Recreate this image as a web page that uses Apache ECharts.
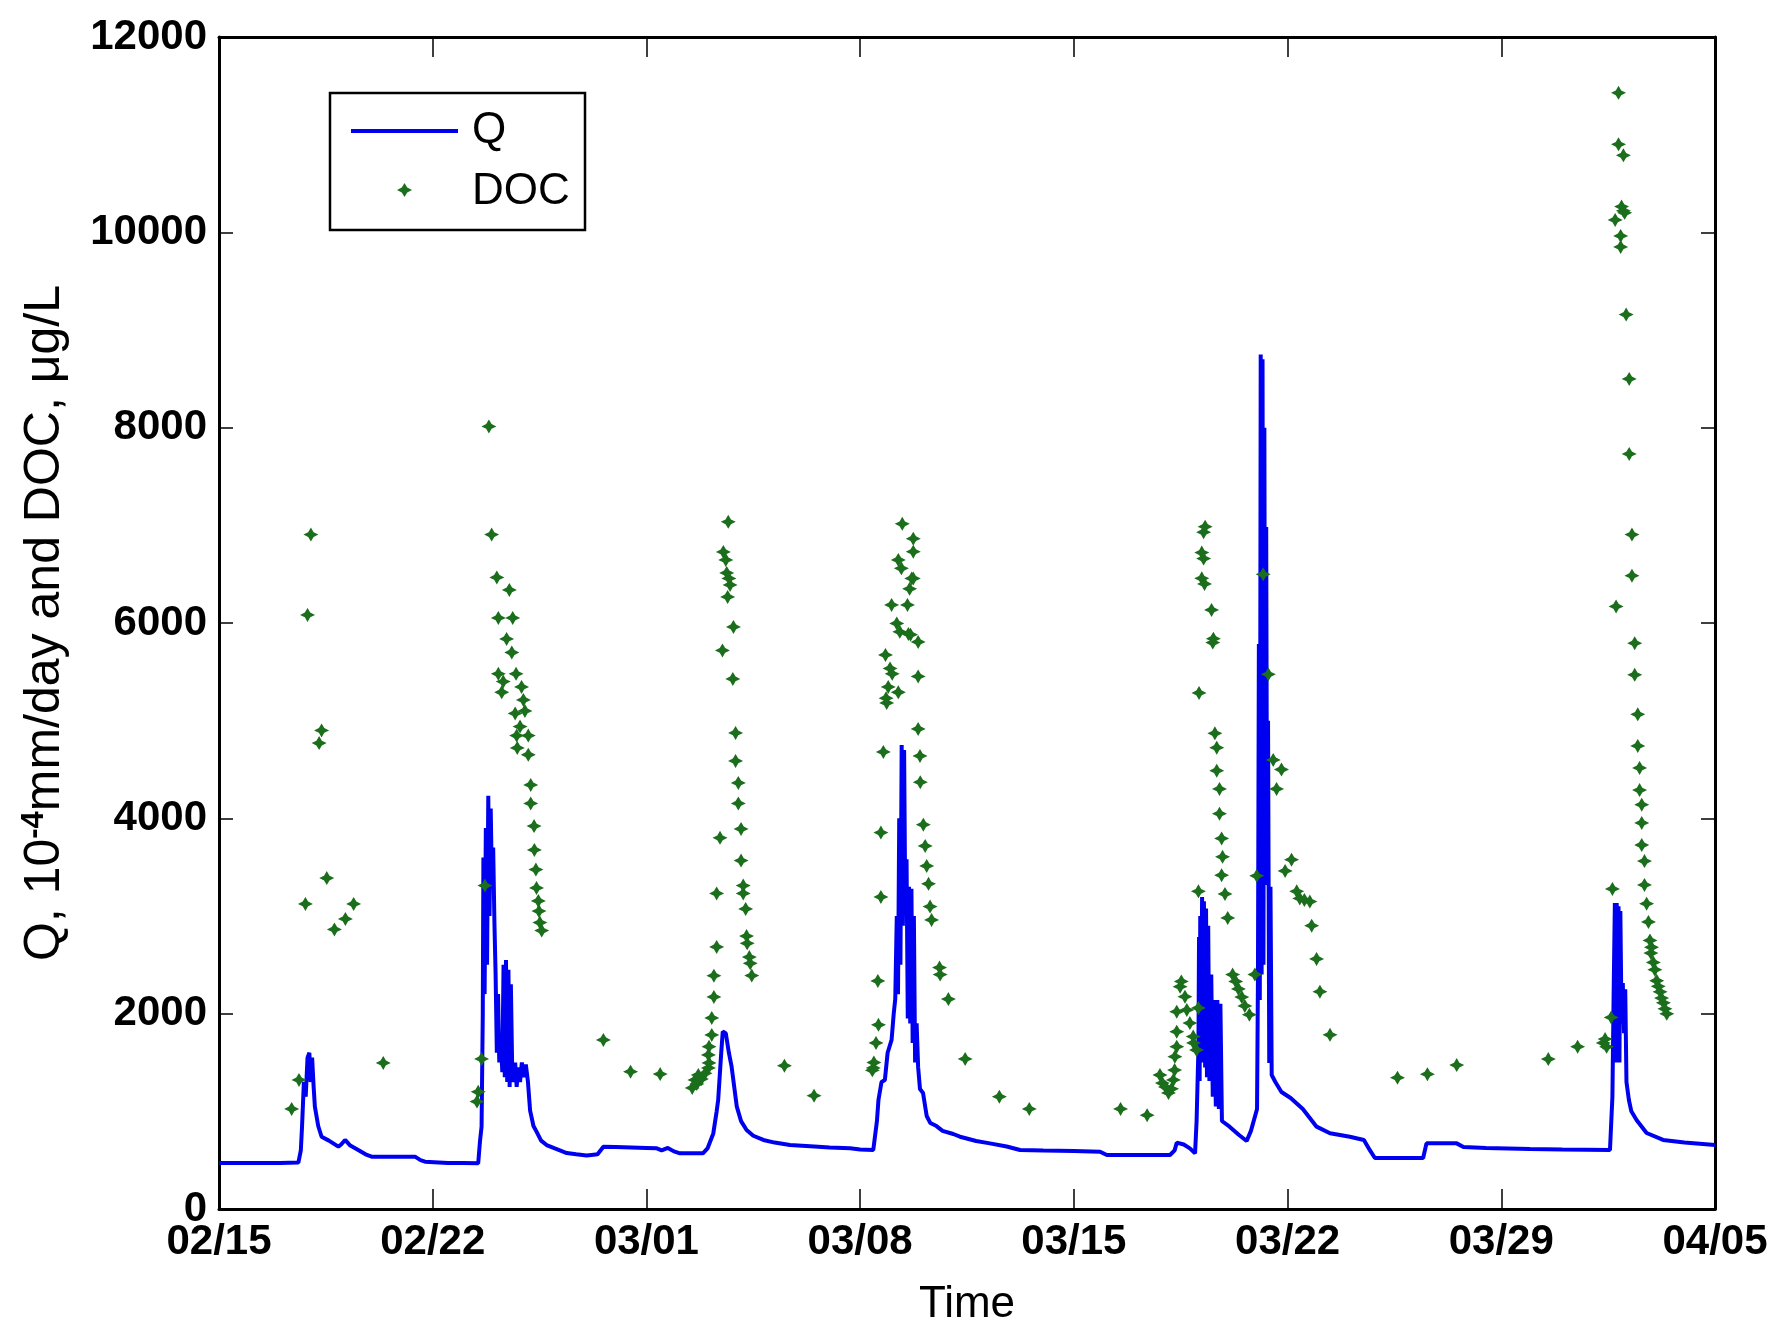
<!DOCTYPE html>
<html>
<head>
<meta charset="utf-8">
<title>Q and DOC</title>
<script src="https://cdn.jsdelivr.net/npm/echarts@6.0.0/dist/echarts.min.js"></script>
<style>
    html, body { margin: 0; padding: 0; background: #fff; }
    #chart { width: 1775px; height: 1327px; }
</style>
</head>
<body>
<div id="chart"></div>
<script>
'use strict';

// x 轴刻度 (从 02/15 起的天数, 每 7 天一个)
var xTickLabels = ['02/15', '02/22', '03/01', '03/08', '03/15', '03/22', '03/29', '04/05'];

// Q (10^-4 mm/day), 时间为 02/15 之后的天数
var qDays = [0, 1, 2, 2.6, 2.68, 2.72, 2.78, 2.84, 2.9, 2.96, 3.0, 3.05, 3.1, 3.14, 3.25, 3.36, 3.6, 3.91, 4.0, 4.13,
    4.3, 4.56, 4.8, 5.0, 5.5, 6.0, 6.42, 6.6, 6.75, 7.5, 8.0, 8.49, 8.55, 8.6, 8.64, 8.66, 8.7, 8.74, 8.78, 8.82,
    8.86, 8.9, 8.94, 8.98, 9.02, 9.06, 9.1, 9.14, 9.18, 9.22, 9.28, 9.32, 9.36, 9.4, 9.44, 9.48, 9.52, 9.56, 9.6, 9.65,
    9.7, 9.75, 9.8, 9.86, 9.92, 9.98, 10.05, 10.12, 10.19, 10.3, 10.4, 10.55, 10.73, 11.0, 11.39, 11.7, 12.04, 12.2, 12.4, 12.59,
    13.0, 13.5, 14.0, 14.34, 14.5, 14.7, 14.9, 15.1, 15.5, 15.85, 16.0, 16.19, 16.3, 16.35, 16.45, 16.5, 16.6, 16.7, 16.79, 16.96,
    17.1, 17.28, 17.5, 17.83, 18.2, 18.7, 19.5, 20.0, 20.67, 21.0, 21.43, 21.55, 21.6, 21.7, 21.81, 21.9, 22.03, 22.1, 22.15, 22.2,
    22.24, 22.28, 22.32, 22.36, 22.4, 22.44, 22.48, 22.52, 22.56, 22.6, 22.64, 22.68, 22.72, 22.76, 22.8, 22.85, 22.9, 22.96, 23.06, 23.18,
    23.3, 23.5, 23.7, 24.05, 24.27, 24.8, 25.25, 25.8, 26.24, 27.0, 28.0, 28.86, 29.08, 30.0, 31.15, 31.3, 31.37, 31.6, 31.8, 31.97,
    32.02, 32.06, 32.08, 32.1, 32.12, 32.14, 32.17, 32.2, 32.23, 32.26, 32.3, 32.33, 32.36, 32.4, 32.44, 32.5, 32.55, 32.6, 32.65, 32.7,
    32.75, 32.8, 32.85, 33.1, 33.4, 33.66, 33.8, 34.0, 34.03, 34.06, 34.09, 34.12, 34.15, 34.18, 34.21, 34.24, 34.27, 34.3, 34.33, 34.36,
    34.4, 34.44, 34.48, 34.6, 34.8, 35.1, 35.5, 35.95, 36.39, 37.04, 37.5, 37.7, 37.86, 38.5, 39.44, 39.55, 40.0, 40.54, 40.76, 41.5,
    42.94, 44.0, 45.56, 45.64, 45.68, 45.72, 45.75, 45.78, 45.81, 45.84, 45.87, 45.9, 45.94, 45.98, 46.02, 46.06, 46.1, 46.18, 46.26, 46.43,
    46.76, 47.3, 48.0, 49.0];
var qVals = [470, 470, 470, 475, 600, 843, 1300, 1150, 1550, 1600, 1300, 1550, 1250, 1048, 850, 740, 700, 638, 660, 707,
    650, 604, 560, 536, 536, 536, 536, 500, 485, 470, 470, 468, 700, 843, 2000, 3600, 2200, 3900, 2500, 4230,
    3000, 4100, 3300, 3700, 2950, 2400, 1600, 2200, 1500, 1800, 1400, 2500, 1350, 2550, 1300, 2450, 1250, 2300, 1500, 1300,
    1500, 1250, 1450, 1300, 1500, 1350, 1480, 1300, 1007, 850, 792, 700, 655, 620, 573, 560, 547, 553, 560, 638,
    635, 630, 625, 621, 600, 625, 590, 570, 570, 570, 620, 774, 1000, 1116, 1600, 1816, 1800, 1600, 1457, 1048,
    900, 809, 750, 707, 680, 655, 640, 630, 621, 610, 604, 900, 1116, 1300, 1321, 1600, 1731, 2000, 2150, 3000,
    2200, 4000, 2500, 4750, 2900, 4700, 3000, 3580, 1950, 3300, 1900, 3280, 1700, 3000, 1500, 1900, 1450, 1229, 1188, 952,
    880, 849, 800, 768, 740, 696, 672, 640, 604, 600, 595, 587, 553, 553, 553, 600, 679, 660, 621, 570,
    900, 1400, 1628, 2785, 1311, 3000, 1500, 3195, 1600, 3150, 1450, 3077, 1350, 2900, 1311, 2400, 1150, 2140, 1050, 2140,
    1024, 2100, 901, 843, 760, 696, 800, 1024, 2375, 5786, 2140, 8750, 2400, 8700, 2500, 8000, 3369, 6984, 3318, 5000,
    1495, 3300, 1372, 1300, 1198, 1137, 1024, 843, 775, 740, 707, 600, 522, 522, 522, 672, 672, 672, 635, 625,
    614, 608, 604, 1150, 2200, 3133, 1500, 3133, 1800, 3100, 1500, 3050, 1900, 2314, 1800, 2250, 1300, 1116, 1000, 911,
    778, 707, 680, 655];

// DOC (µg/L)
var docDays = [2.38, 2.62, 2.83, 2.9, 3.01, 3.28, 3.36, 3.53, 3.78, 4.14, 4.41, 5.38,
    8.45, 8.49, 8.6, 8.71, 8.84, 8.93, 9.1, 9.15, 9.15, 9.26, 9.31, 9.42, 9.51, 9.59, 9.62, 9.7, 9.73, 9.75,
    9.77, 9.86, 9.91, 9.97, 10.02, 10.13, 10.13, 10.21, 10.21, 10.32, 10.33, 10.38, 10.4, 10.46, 10.48, 10.51, 10.57,
    12.59, 13.48, 14.45,
    15.5, 15.59, 15.65, 15.7, 15.8, 15.92, 16.03, 16.05, 16.03, 16.05, 16.14, 16.14, 16.21, 16.21, 16.3, 16.3, 16.41, 16.49,
    16.52, 16.6, 16.63, 16.68, 16.7, 16.74, 16.66, 16.83, 16.85, 16.92, 16.92, 17.01, 17.01, 17.1, 17.1, 17.17, 17.17, 17.25,
    17.28, 17.3, 17.37, 17.4, 17.45,
    18.52, 19.49,
    21.4, 21.43, 21.45, 21.52, 21.6, 21.58, 21.68, 21.68, 21.76, 21.83, 21.87, 21.92, 21.85, 21.98, 22.05, 22.25, 22.03, 22.2,
    22.3, 22.58, 22.65, 22.9, 22.55, 22.25, 22.35, 22.69, 22.74, 22.62, 22.38, 22.74, 22.74, 22.9, 22.9, 22.96, 22.97, 23.07,
    23.13, 23.18, 23.24, 23.29, 23.34, 23.6, 23.62, 23.89, 24.44,
    25.56, 26.54, 29.53, 30.4,
    30.82, 30.9, 31.0, 31.1, 31.2, 31.26, 31.3, 31.31, 31.37, 31.37, 31.37, 31.48, 31.52, 31.64, 31.7, 31.8, 31.91, 32.02,
    31.92, 32.08, 32.08, 32.1, 32.19, 32.19, 32.25, 32.25, 32.3, 32.28, 32.51, 32.57, 32.55, 32.62, 32.68, 32.68, 32.77, 32.77,
    32.84, 32.87, 32.84, 32.95, 33.04, 33.2, 33.3, 33.39, 33.5, 33.6, 33.75, 33.93, 33.99, 34.2, 34.37, 34.53, 34.64, 34.8,
    34.92, 35.13, 35.3, 35.4, 35.55, 35.73, 35.79, 35.95, 36.06, 36.39,
    38.6, 39.58, 40.54, 43.54, 44.5,
    45.34, 45.4, 45.45, 45.6, 45.64, 45.76, 45.73, 45.84, 45.84, 46.0, 45.94, 46.0, 46.04, 45.91, 45.91, 46.09, 46.19, 46.19,
    46.28, 46.28, 46.37, 46.37, 46.47, 46.47, 46.53, 46.53, 46.6, 46.6, 46.6, 46.69, 46.69, 46.76, 46.82, 46.87, 46.9, 46.92,
    46.98, 47.03, 47.09, 47.14, 47.2, 47.25, 47.31, 47.36, 47.42];
var docVals = [1024, 1321, 3123, 6083, 6906, 4771, 4900, 3389, 2862, 2970, 3123, 1495,
    1100, 1200, 1536, 3312, 8012, 6906, 6467, 6052, 5480, 5291, 5400, 5837, 6338, 5698, 6052, 5074, 5480, 4847,
    4721, 4939, 5345, 5212, 5100, 4847, 4651, 4342, 4152, 3921, 3676, 3475, 3287, 3154, 3050, 2933, 2851,
    1731, 1406, 1382,
    1239, 1321, 1280, 1372, 1330, 1389, 1444, 1495, 1577, 1662, 1782, 1956, 2171, 2389, 2683, 3231, 3800, 5719,
    6728, 6646, 6512, 7036, 6456, 6390, 6267, 5427, 5960, 4874, 4588, 4362, 4152, 3891, 3567, 3312, 3231, 3072,
    2795, 2720, 2580, 2515, 2390,
    1468, 1160,
    1420, 1444, 1500, 1700, 1886, 2335, 3195, 3854, 4680, 5673, 5181, 5345, 5230, 5535, 5480, 5291, 6185, 5996,
    5910, 5888, 5880, 5806, 6185, 6646, 6560, 6456, 6456, 6350, 7015, 6863, 6730, 5453, 4915, 4639, 4370, 3935,
    3717, 3512, 3330, 3096, 2960, 2472, 2400, 2150, 1536,
    1150, 1025, 1025, 960,
    1372, 1290, 1250, 1188, 1230, 1321, 1423, 1560, 1662, 1816, 2020, 2276, 2330, 2174, 2038, 1904, 1765, 1628,
    1700, 2058, 3253, 5284, 6721, 6457, 6660, 6930, 6986, 6400, 6134, 5840, 5800, 4870, 4723, 4488, 4301, 4047,
    3794, 3606, 3418, 3226, 2980, 2400, 2330, 2253, 2170, 2079, 1990, 2401, 3412, 6498, 5475, 4598, 4301, 4500,
    3461, 3577, 3253, 3180, 3164, 3148, 2901, 2560, 2225, 1784,
    1345, 1380, 1474, 1535, 1662,
    1700, 1740, 1660, 1962, 3277, 6169, 10127, 11428, 10901, 10789, 10264, 10220, 10200, 9963, 9851, 9158, 8499, 7731,
    6905, 6484, 5793, 5470, 5065, 4741, 4516, 4290, 4140, 3953, 3727, 3563, 3318, 3126, 2939, 2750, 2620, 2680,
    2525, 2450, 2337, 2280, 2224, 2160, 2111, 2050, 1999];

var FONT = "'Liberation Sans', Arial, Helvetica, sans-serif";
var Q_COLOR = '#0000f0';
var DOC_COLOR = '#1b6e1b';
var STAR = 'path://M5,0 L6.8,3.3 L10,5 L6.8,6.7 L5,10 L3.2,6.7 L0,5 L3.2,3.3 Z';

function pairs(xs, ys) {
    var out = [];
    for (var i = 0; i < xs.length; i++) {
        out.push([xs[i], ys[i]]);
    }
    return out;
}

// 图例里的星形标记 (中心 cx, cy)
function starPoints(cx, cy, w, h) {
    var hw = w / 2, hh = h / 2, k = 0.36;
    return [
        [cx, cy - hh], [cx + hw * k, cy - hh * k], [cx + hw, cy], [cx + hw * k, cy + hh * k],
        [cx, cy + hh], [cx - hw * k, cy + hh * k], [cx - hw, cy], [cx - hw * k, cy - hh * k]
    ];
}

var chart = echarts.init(document.getElementById('chart'), null, {renderer: 'canvas'});

var axisLine = {show: true, onZero: false, lineStyle: {color: '#000', width: 3}};
var xTick = {show: true, inside: true, length: 20, lineStyle: {color: '#000', width: 1.5}};
var yTick = {show: true, inside: true, length: 14, lineStyle: {color: '#000', width: 1.5}};

var option = {
    backgroundColor: '#fff',
    animation: false,
    grid: {left: 219, right: 60, top: 37, bottom: 118, containLabel: false, outerBoundsMode: 'none'},
    xAxis: [{
        type: 'value',
        position: 'bottom',
        min: 0,
        max: 49,
        interval: 7,
        name: 'Time',
        nameLocation: 'middle',
        nameGap: 74,
        nameTextStyle: {fontFamily: FONT, fontSize: 44, color: '#000'},
        axisLine: axisLine,
        axisTick: xTick,
        axisLabel: {
            margin: 12,
            fontFamily: FONT,
            fontSize: 42,
            fontWeight: 'bold',
            color: '#000',
            formatter: function (v) {
                return xTickLabels[Math.round(v / 7)];
            }
        },
        splitLine: {show: false}
    }, {
        type: 'value',
        position: 'top',
        min: 0,
        max: 49,
        interval: 7,
        axisLine: axisLine,
        axisTick: xTick,
        axisLabel: {show: false},
        splitLine: {show: false}
    }],
    yAxis: [{
        type: 'value',
        position: 'left',
        min: 0,
        max: 12000,
        interval: 2000,
        name: '{t|Q, 10}{s|-4}{t|mm/day and DOC, μg/L}',
        nameLocation: 'middle',
        nameRotate: 90,
        nameGap: 148,
        nameTextStyle: {
            rich: {
                t: {fontFamily: FONT, fontSize: 50, color: '#000', lineHeight: 52},
                s: {fontFamily: FONT, fontSize: 31, fontWeight: 'bold', color: '#000', verticalAlign: 'top', lineHeight: 52}
            }
        },
        axisLine: axisLine,
        axisTick: yTick,
        axisLabel: {
            margin: 12,
            fontFamily: FONT,
            fontSize: 42,
            fontWeight: 'bold',
            color: '#000',
            formatter: function (v) {
                return String(v);
            }
        },
        splitLine: {show: false}
    }, {
        type: 'value',
        position: 'right',
        min: 0,
        max: 12000,
        interval: 2000,
        axisLine: axisLine,
        axisTick: yTick,
        axisLabel: {show: false},
        splitLine: {show: false}
    }],
    series: [{
        name: 'Q',
        type: 'line',
        data: pairs(qDays, qVals),
        showSymbol: false,
        symbol: 'none',
        lineStyle: {color: Q_COLOR, width: 4},
        z: 2
    }, {
        name: 'DOC',
        type: 'scatter',
        data: pairs(docDays, docVals),
        symbol: STAR,
        symbolSize: [15, 14],
        itemStyle: {color: DOC_COLOR, opacity: 1},
        z: 3
    }],
    // 图例 (画法仿照 MATLAB 的方框图例)
    graphic: [{
        type: 'rect',
        shape: {x: 330, y: 93, width: 255, height: 137},
        style: {fill: '#fff', stroke: '#000', lineWidth: 2.5},
        z: 10
    }, {
        type: 'line',
        shape: {x1: 351, y1: 131, x2: 458, y2: 131},
        style: {stroke: Q_COLOR, lineWidth: 4},
        z: 11
    }, {
        type: 'text',
        x: 472,
        y: 131,
        style: {text: 'Q', fontFamily: FONT, fontSize: 44, fill: '#000', verticalAlign: 'middle'},
        z: 11
    }, {
        type: 'polygon',
        shape: {points: starPoints(404.5, 190, 15, 14)},
        style: {fill: DOC_COLOR},
        z: 11
    }, {
        type: 'text',
        x: 472,
        y: 192,
        style: {text: 'DOC', fontFamily: FONT, fontSize: 44, fill: '#000', verticalAlign: 'middle'},
        z: 11
    }]
};

chart.setOption(option);
</script>
</body>
</html>
